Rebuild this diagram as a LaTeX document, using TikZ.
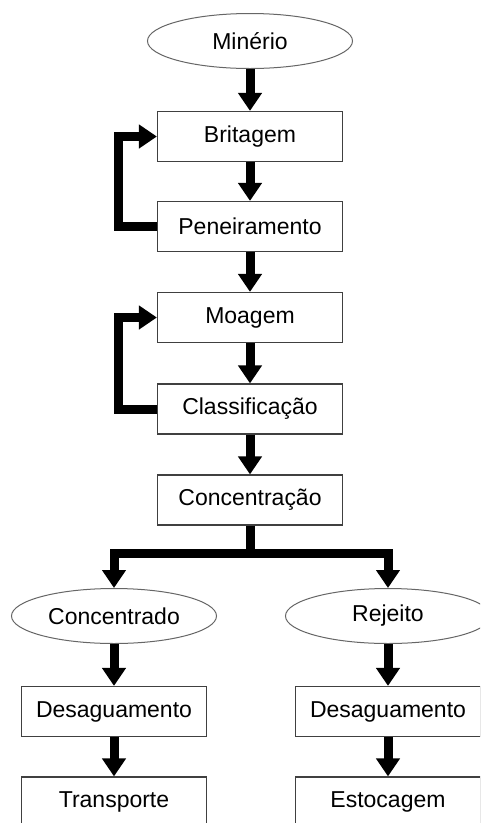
\documentclass[tikz,border=0pt]{standalone}
\usepackage{fontspec}
\setmainfont{Liberation Sans}
\usetikzlibrary{shapes.geometric,arrows.meta}

\begin{document}
\begin{tikzpicture}[x=1pt,y=-1pt,
    fat/.style={line width=9pt,-{Triangle[width=23pt 0,length=18pt 0]}},
    txt/.style={font=\fontsize{23}{27}\selectfont}]

      \clip (0,0) rectangle (480,823);
      \fill[white] (0,0) rectangle (480,823);

      \begin{scope}[every node/.style={ellipse,draw=black!60,line width=1pt,minimum width=205pt,minimum height=55pt,inner sep=0pt,txt}]
        \node (minerio) at (250,41) {Minério};
        \node (concentrado) at (114,616) {Concentrado};
        \node (rejeito) at (388,616) {Rejeito};
      \end{scope}

      \begin{scope}[every node/.style={rectangle,draw=black!75,line width=1.2pt,minimum width=185pt,minimum height=50pt,inner sep=0pt,txt}]
        \node (britagem) at (250,136.5) {Britagem};
        \node (peneiramento) at (250,226.5) {Peneiramento};
        \node (moagem) at (250,317.5) {Moagem};
        \node (classificacao) at (250,409) {Classificação};
        \node (concentracao) at (250,500) {Concentração};
        \node (desag1) at (114,711.5) {Desaguamento};
        \node (desag2) at (388,711.5) {Desaguamento};
        \node (transporte) at (114,802) {Transporte};
        \node (estocagem) at (388,802) {Estocagem};
      \end{scope}

      \begin{scope}[every edge/.style={draw,fat}]
        \path (minerio.south) edge (britagem.north);
        \path (britagem) edge (peneiramento);
        \path (peneiramento) edge (moagem);
        \path (moagem) edge (classificacao);
        \path (classificacao) edge (concentracao);
        \path (concentrado.south) edge (desag1.north);
        \path (rejeito.south) edge (desag2.north);
        \path (desag1) edge (transporte);
        \path (desag2) edge (estocagem);
      \end{scope}

      % retornos
      \draw[fat] (peneiramento.west) -- ++(-38,0) |- (britagem.west);
      \draw[fat] (classificacao.west) -- ++(-38,0) |- (moagem.west);

      % divisao
      \draw[line width=9pt] (concentracao.south) -- ++(0,28) coordinate (ramo);
      \draw[fat] (ramo) -| (concentrado.north);
      \draw[fat] (ramo) -| (rejeito.north);

    \end{tikzpicture}
\end{document}
